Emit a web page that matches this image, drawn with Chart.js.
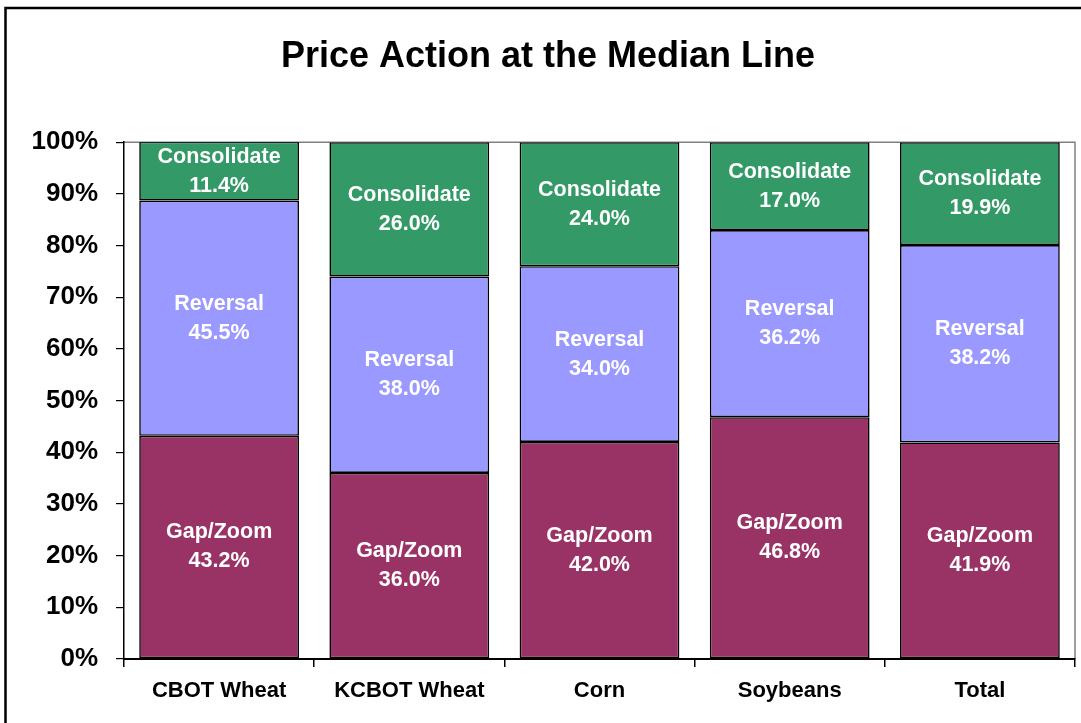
<!DOCTYPE html>
<html>
<head>
<meta charset="utf-8">
<script src="https://cdn.jsdelivr.net/npm/chart.js@4/dist/chart.umd.min.js"></script>
<style>
  html, body { margin: 0; padding: 0; background: #fff; }
  #wrap { width: 1081px; height: 723px; }
</style>
</head>
<body>
<div id="wrap"><canvas id="c" width="1081" height="723"></canvas></div>
<script>
const categories = ['CBOT Wheat', 'KCBOT Wheat', 'Corn', 'Soybeans', 'Total'];
const gapZoom = [43.2, 36.0, 42.0, 46.8, 41.9];
const reversal = [45.5, 38.0, 34.0, 36.2, 38.2];
const consolidate = [11.4, 26.0, 24.0, 17.0, 19.9];
const seriesNames = ['Gap/Zoom', 'Reversal', 'Consolidate'];
const chartTitle = 'Price Action at the Median Line';

const FONT = "'Liberation Sans', Arial, sans-serif";

const framePlugin = {
  id: 'frame',
  beforeDraw(chart) {
    const ctx = chart.ctx;
    const a = chart.chartArea;
    ctx.save();
    ctx.fillStyle = '#fff';
    ctx.fillRect(0, 0, chart.width, chart.height);
    ctx.strokeStyle = '#000';
    ctx.lineWidth = 2.5;
    ctx.beginPath();
    ctx.moveTo(5.5, chart.height + 2);
    ctx.lineTo(5.5, 8);
    ctx.lineTo(chart.width + 2, 8);
    ctx.stroke();
    ctx.strokeStyle = '#808080';
    ctx.lineWidth = 1.5;
    ctx.beginPath();
    ctx.moveTo(a.left, a.top);
    ctx.lineTo(a.right, a.top);
    ctx.lineTo(a.right, a.bottom);
    ctx.stroke();
    ctx.restore();
  }
};

const labelPlugin = {
  id: 'segLabels',
  afterDatasetsDraw(chart) {
    const ctx = chart.ctx;
    ctx.save();
    ctx.fillStyle = '#fff';
    ctx.font = 'bold 21.5px ' + FONT;
    ctx.textAlign = 'center';
    ctx.textBaseline = 'middle';
    chart.data.datasets.forEach((ds, di) => {
      const meta = chart.getDatasetMeta(di);
      meta.data.forEach((el, i) => {
        const cy = (el.y + el.base) / 2;
        ctx.fillText(ds.label, el.x, cy - 14.5);
        ctx.fillText(ds.data[i].toFixed(1) + '%', el.x, cy + 14.5);
      });
    });
    ctx.restore();
  }
};

const mk = (label, data, color) => ({
  label, data,
  backgroundColor: color,
  borderColor: '#000',
  borderWidth: 1.6,
  borderSkipped: false,
  categoryPercentage: 1.0,
  barPercentage: 0.84
});

new Chart(document.getElementById('c'), {
  type: 'bar',
  data: {
    labels: categories,
    datasets: [
      mk(seriesNames[0], gapZoom, '#993366'),
      mk(seriesNames[1], reversal, '#9999FF'),
      mk(seriesNames[2], consolidate, '#339966')
    ]
  },
  options: {
    responsive: false,
    animation: false,
    layout: { padding: { top: 0, left: 21, right: 6, bottom: 0 } },
    plugins: {
      legend: { display: false },
      tooltip: { enabled: false },
      title: {
        display: true,
        text: chartTitle,
        color: '#000',
        font: { family: FONT, size: 36, weight: 'bold' },
        padding: { top: 35, bottom: 64 }
      }
    },
    scales: {
      x: {
        stacked: true,
        afterFit(s) { s.height = 64; },
        grid: { offset: true, drawOnChartArea: false, drawTicks: true, tickLength: 8, color: '#000', lineWidth: 1.5 },
        border: { color: '#000', width: 2 },
        ticks: { color: '#000', padding: 11, font: { family: FONT, size: 22, weight: 'bold' }, maxRotation: 0 }
      },
      y: {
        stacked: true,
        min: 0, max: 100,
        afterFit(s) { s.width = 103; },
        grid: { drawOnChartArea: false, drawTicks: true, tickLength: 8, color: '#000', lineWidth: 1.2 },
        border: { color: '#000', width: 1.5 },
        ticks: {
          stepSize: 10,
          color: '#000',
          padding: 18,
          font: { family: FONT, size: 26, weight: 'bold' },
          callback: v => v + '%'
        }
      }
    }
  },
  plugins: [framePlugin, labelPlugin]
});
</script>
</body>
</html>
